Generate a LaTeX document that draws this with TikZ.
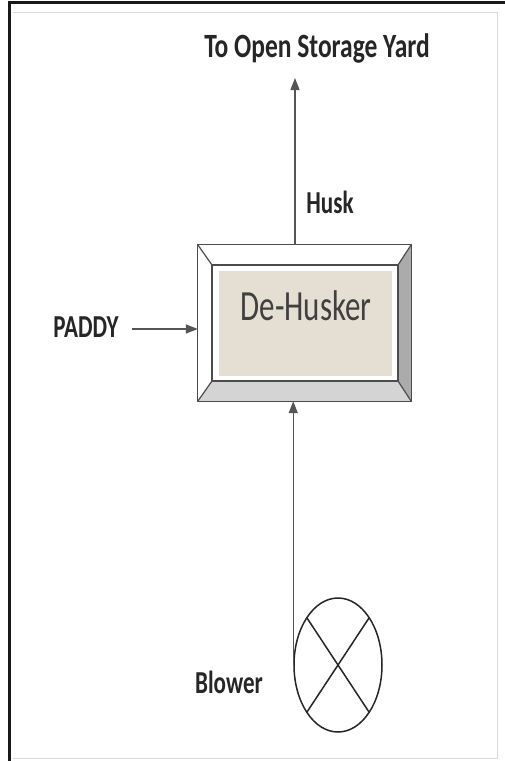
\documentclass[tikz,border=0pt]{standalone}
\usepackage{fontspec}
\setmainfont{Carlito}
\usetikzlibrary{arrows.meta,calc,shapes.geometric}
\definecolor{beige}{HTML}{E5DED2}
\definecolor{lineg}{HTML}{555555}
\tikzset{
  lbl/.style={font=\fontsize{32}{36}\selectfont\bfseries, text=black!85, xscale=0.72, inner sep=0pt, anchor=base},
  ttl/.style={font=\fontsize{34}{40}\selectfont\bfseries, text=black!85, xscale=0.75, inner sep=0pt, anchor=base},
  flow/.style={draw=lineg, line width=1.3pt, -{Triangle[length=12pt,width=9pt]}, shorten >=0pt},
  bevel/.style={draw=black!70, line width=1.2pt, line join=round},
}
\begin{document}
\begin{tikzpicture}[x=1pt,y=-1pt]
\useasboundingbox (0,0) rectangle (505,761);
\fill[white] (0,0) rectangle (505,761);
% frame
\draw[black!15, line width=1pt] (13,12) -- (497,12) -- (497,758) -- (13,758);
\draw[black!90, line width=3pt] (9,761) -- (9,2.5) -- (505,2.5);
% box
\node[minimum width=213pt, minimum height=156pt, inner sep=0pt] (box) at (304.5,323) {};
\coordinate (i1) at (212,265);
\coordinate (i2) at (398,265);
\coordinate (i3) at (398,381);
\coordinate (i4) at (212,381);
\fill[white] (box.north west) -- (box.north east) -- (i2) -- (i1) -- cycle;
\fill[white] (box.north west) -- (i1) -- (i4) -- (box.south west) -- cycle;
\fill[black!33] (box.north east) -- (box.south east) -- (i3) -- (i2) -- cycle;
\fill[black!17] (box.south west) -- (i4) -- (i3) -- (box.south east) -- cycle;
\fill[white] (i1) rectangle (i3);
\fill[beige] (219,271) rectangle (392,376);
\draw[bevel] (box.north west) rectangle (box.south east);
\draw[bevel] (i1) rectangle (i3);
\draw[bevel] (box.north west) -- (i1) (box.north east) -- (i2) (box.south east) -- (i3) (box.south west) -- (i4);
\node[font=\fontsize{43}{48}\selectfont, text=black!75, xscale=0.72, inner sep=0pt, anchor=base] (dh) at (306,320) {De-Husker};
% labels
\node[ttl] (yard) at (317,57) {To Open Storage Yard};
\node[lbl] (husk) at (330,213) {Husk};
\node[lbl] (paddy) at (86,337) {PADDY};
\node[lbl] (blowlbl) at (229,693) {Blower};
% blower
\node[draw=black!85, line width=1.5pt, ellipse, minimum width=88pt, minimum height=134pt, inner sep=0pt] (blower) at (338,665) {};
\draw[black!85, line width=1.5pt] ($(blower.center)+(-31,-47)$) -- ($(blower.center)+(31,47)$);
\draw[black!85, line width=1.5pt] ($(blower.center)+(31,-47)$) -- ($(blower.center)+(-31,47)$);
% connectors
\coordinate (ytip) at (295,78);
\coordinate (paddyend) at (132,329);
\draw[flow] (box.north west -| ytip) -- (ytip);
\draw[flow] (paddyend) -- (paddyend -| box.west);
\draw[flow] (blower.west) -- (blower.west |- box.south);
\end{tikzpicture}
\end{document}
